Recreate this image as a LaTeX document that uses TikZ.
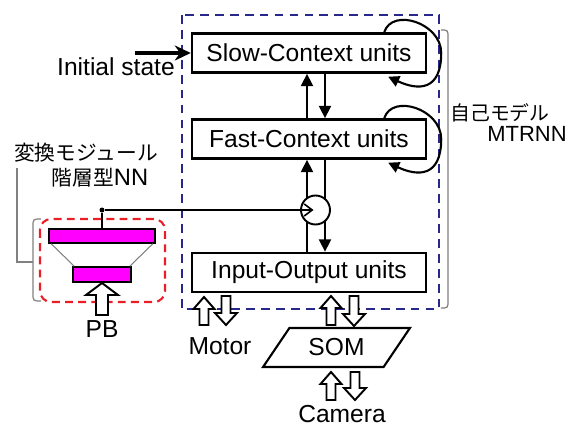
\documentclass[tikz,border=0pt]{standalone}
\usepackage{fontspec}
\setmainfont{Liberation Sans}
\newfontfamily\cjk{Noto Sans CJK JP}
\usetikzlibrary{arrows.meta,calc,shapes.geometric}
\definecolor{boxblue}{RGB}{40,40,140}
\definecolor{pbred}{RGB}{235,30,40}
\definecolor{pbpink}{RGB}{255,0,255}
\newcommand{\upblock}[4]{\draw[hollowarr] (#1) ++(-#3,0) -- ++(0,{-(#2-12)}) -- ++({-(#4-#3)},0) -- ++(#4,-12) -- ++(#4,12) -- ++({-(#4-#3)},0) -- ++(0,{#2-12}) -- cycle;}
\newcommand{\downblock}[4]{\draw[hollowarr] (#1) ++(-#3,0) -- ++(0,{#2-12}) -- ++({-(#4-#3)},0) -- ++(#4,12) -- ++(#4,-12) -- ++({-(#4-#3)},0) -- ++(0,{-(#2-12)}) -- cycle;}
\begin{document}
\begin{tikzpicture}[x=0.02cm, y=-0.02cm, every node/.style={font=\fontsize{14}{16}\selectfont},
  unitbox/.style={draw,line width=1.4pt,minimum width=4.68cm,minimum height=0.78cm,inner sep=0pt},
  flow/.style={line width=1.2pt,-{Triangle[length=0.25cm,width=0.24cm]}},
  loopline/.style={line width=1.2pt,-{Triangle[length=0.22cm,width=0.22cm]}},
  hollowarr/.style={draw,fill=white,line width=1.1pt,line join=miter},
  pbbar/.style={draw,fill=pbpink,line width=0.9pt,inner sep=0pt},
  brk/.style={gray,line width=0.7pt}]
\useasboundingbox (0,0) rectangle (569,426);
% MTRNN frame
\draw[boxblue,line width=1.2pt,dash pattern=on 5pt off 3.5pt] (182,15) rectangle (439,309);
\node[unitbox] (slow) at (309,53) {Slow-Context units};
\node[unitbox] (fast) at (309,139) {Fast-Context units};
\node[unitbox] (io) at (309,272.5) {Input-Output units};
\draw[flow] ($(fast.north)+(-2,0)$)--($(slow.south)+(-2,0)$); \draw[flow] ($(slow.south)+(16,0)$)--($(fast.north)+(16,0)$);
\draw[flow] ($(io.north)+(-2,0)$)--($(fast.south)+(-2,0)$); \draw[flow] ($(fast.south)+(16,0)$)--($(io.north)+(16,0)$);
\draw[loopline] ($(slow.north east)+(-43,0)$) .. controls +(8,-25) and +(0,-30) .. ($(slow.east)+(14,0)$) .. controls +(0,38) and +(30,14) .. ($(slow.south east)+(-39,3)$);
\draw[loopline] ($(fast.north east)+(-43,0)$) .. controls +(8,-25) and +(0,-30) .. ($(fast.east)+(14,0)$) .. controls +(0,38) and +(30,14) .. ($(fast.south east)+(-39,3)$);
\node[circle,draw,fill=white,line width=1.1pt,minimum size=0.58cm,inner sep=0pt] (mix) at (315.5,210) {};
\node (initlbl) at (116,67) {Initial state};
\coordinate (initstart) at (135,53);
\draw[line width=1.8pt,-{Stealth[length=0.32cm,width=0.3cm]}] (initstart)--(slow.west);
% converter module
\node[pbbar,minimum width=2.12cm,minimum height=0.28cm] (topbar) at (102,236) {};
\node[pbbar,minimum width=1.16cm,minimum height=0.3cm] (botbar) at (102,274.5) {};
\draw[gray,line width=0.6pt] ($(topbar.south west)+(3,0)$)--($(botbar.north west)+(2,0)$);
\draw[gray,line width=0.6pt] ($(topbar.south east)+(-3,0)$)--($(botbar.north east)+(-2,0)$);
\draw[pbred,line width=1.2pt,dash pattern=on 4.5pt off 3pt,rounded corners=0.22cm] (40,219) rectangle (165,302);
\node[circle,fill,inner sep=0pt,minimum size=0.1cm] (tap) at (102,210) {};
\draw[line width=0.9pt] (tap)--(topbar.north);
\draw[line width=0.9pt,-{Straight Barb[length=0.16cm,width=0.24cm]}] (tap)--($(mix.center)+(-2,0)$);
\upblock{102,315}{32}{6}{16}
\node (pb) at (102,329) {PB};
% brackets and labels
\draw[brk] (41,219) .. controls (33,219) .. (33,227)--(33,293) .. controls (33,301) .. (41,301);
\coordinate (lbrk) at (33,262); \coordinate (ltop) at (17,168);
\draw[brk] (lbrk) -| (ltop);
\node (convlbl) at (86,153) {\cjk\fontsize{11.8}{13}\selectfont 変換モジュール};
\node (nnlbl) at (100,178) {\cjk\fontsize{11.8}{13}\selectfont 階層型\rmfamily\fontsize{13.5}{15}\selectfont NN};
\draw[brk] (441,30) .. controls (448,30) .. (448,38)--(448,300) .. controls (448,308) .. (441,308);
\node (selflbl) at (500,113) {\cjk\fontsize{11.3}{13}\selectfont 自己モデル};
\node (mtrnnlbl) at (527,134) {\fontsize{12.5}{15}\selectfont MTRNN};
% sensors and motors
\upblock{204,325}{28}{4.5}{10.5}
\downblock{226,296}{29}{4.5}{11}
\node (motor) at (220,346) {Motor};
\upblock{331,325}{29}{4.5}{10.5}
\downblock{354,296}{30}{4.5}{11}
\node[trapezium,draw,line width=1.2pt,trapezium left angle=48,trapezium right angle=132,trapezium stretches=true,minimum width=2.94cm,minimum height=0.78cm,inner sep=0pt] (som) at (336.5,347.5) {SOM};
\upblock{331,400}{28}{4.5}{10.5}
\downblock{355,372}{28}{4.5}{11}
\node (camera) at (342,414) {Camera};
\end{tikzpicture}
\end{document}
